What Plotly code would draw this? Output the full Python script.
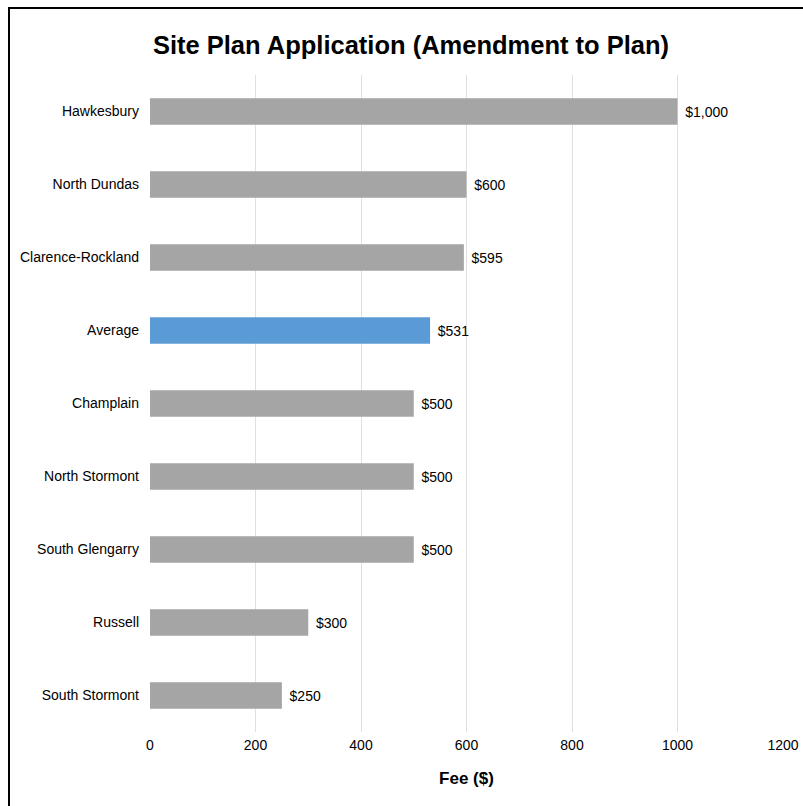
import plotly.graph_objects as go

municipalities = ["Hawkesbury", "North Dundas", "Clarence-Rockland", "Average",
                  "Champlain", "North Stormont", "South Glengarry", "Russell",
                  "South Stormont"]
fees = [1000, 600, 595, 531, 500, 500, 500, 300, 250]
x_ticks = [0, 200, 400, 600, 800, 1000, 1200]

GREY = "#a5a5a5"
BLUE = "#5b9bd5"
colors = [BLUE if m == "Average" else GREY for m in municipalities]
labels = ["\u2004${:,}".format(v) for v in fees]

fig = go.Figure(go.Bar(
    x=fees,
    y=municipalities,
    orientation="h",
    marker=dict(color=colors, line=dict(width=0)),
    text=labels,
    textposition="outside",
    textfont=dict(size=14, color="#000000"),
    cliponaxis=False,
    width=0.36,
))

W, H = 803, 806
L, R, T, B = 150, 20, 75, 74
pw, ph = W - L - R, H - T - B

def px_x(p):
    return (p - L) / pw

def px_y(p):
    return (H - B - p) / ph

fig.update_layout(
    width=W, height=H,
    margin=dict(l=L, r=R, t=T, b=B),
    paper_bgcolor="white",
    plot_bgcolor="white",
    font=dict(family="Liberation Sans, Arial, sans-serif", size=14, color="#000000"),
    title=dict(text="<b>Site Plan Application (Amendment to Plan)</b>",
               x=411 / W, xref="container", xanchor="center",
               y=1 - 45 / H, yref="container", yanchor="middle",
               font=dict(size=25.5, color="#000000")),
    showlegend=False,
    xaxis=dict(range=[0, 1200], tickvals=x_ticks, showgrid=True,
               gridcolor="#e0e0e0", gridwidth=1, zeroline=False,
               showline=False, ticks="", ticklabelstandoff=3,
               automargin=False, tickfont=dict(size=14),
               title=dict(text="<b>Fee ($)</b>", font=dict(size=17), standoff=20)),
    yaxis=dict(categoryorder="array", categoryarray=municipalities,
               autorange="reversed", showgrid=False, zeroline=False,
               showline=False, ticks="", ticklabelstandoff=10,
               automargin=False, tickfont=dict(size=14)),
    shapes=[dict(type="rect", xref="paper", yref="paper",
                 x0=px_x(9), x1=px_x(830), y0=px_y(830), y1=px_y(8),
                 line=dict(color="#000000", width=2), fillcolor="rgba(0,0,0,0)",
                 layer="above")],
)

fig.write_html("out.html")
